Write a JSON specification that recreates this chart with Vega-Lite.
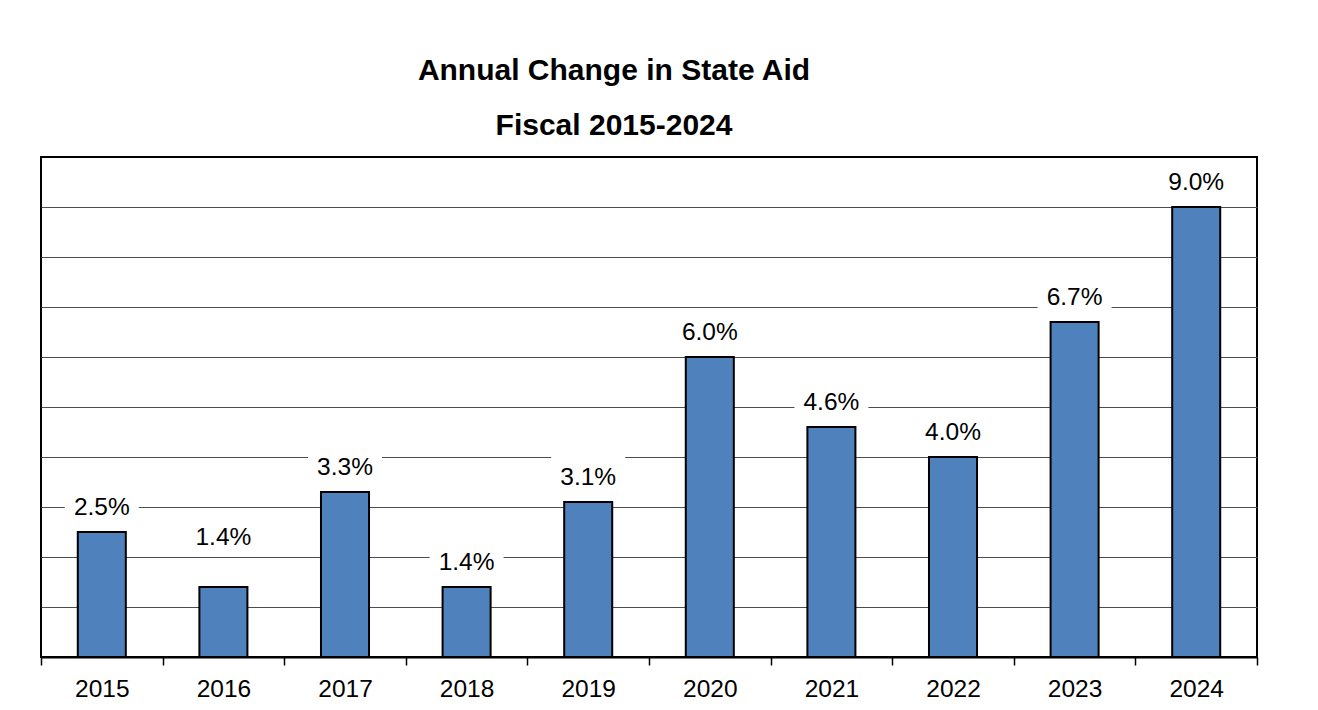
{
  "$schema": "https://vega.github.io/schema/vega-lite/v6.json",
  "width": 1216,
  "height": 500,
  "autosize": {"type": "none"},
  "padding": {"left": 41, "top": 157, "right": 61, "bottom": 53},
  "background": "white",
  "title": {
    "text": ["Annual Change in State Aid", "Fiscal 2015-2024"],
    "font": "Liberation Sans",
    "fontSize": 30,
    "fontWeight": "bold",
    "color": "black",
    "lineHeight": 55,
    "baseline": "bottom",
    "anchor": "middle",
    "offset": -14,
    "dx": -35
  },
  "config": {"view": {"stroke": "black", "strokeWidth": 2}},
  "data": {
    "values": [
      {"year": "2015", "change": 0.025},
      {"year": "2016", "change": 0.014},
      {"year": "2017", "change": 0.033},
      {"year": "2018", "change": 0.014},
      {"year": "2019", "change": 0.031},
      {"year": "2020", "change": 0.060},
      {"year": "2021", "change": 0.046},
      {"year": "2022", "change": 0.040},
      {"year": "2023", "change": 0.067},
      {"year": "2024", "change": 0.090}
    ]
  },
  "encoding": {
    "x": {
      "field": "year",
      "type": "nominal",
      "scale": {"paddingInner": 0, "paddingOuter": 0},
      "axis": {
        "title": null,
        "labelAngle": 0,
        "labelFont": "Liberation Sans",
        "labelFontSize": 24.5,
        "labelColor": "black",
        "labelPadding": 12,
        "tickSize": 8,
        "tickColor": "black",
        "tickWidth": 1.5,
        "tickBand": "extent",
        "domainColor": "black",
        "domainWidth": 2,
        "grid": false
      }
    },
    "y": {
      "field": "change",
      "type": "quantitative",
      "scale": {"domain": [0, 0.1], "nice": false},
      "axis": {
        "title": null,
        "labels": false,
        "ticks": false,
        "domain": false,
        "grid": true,
        "gridColor": "#4d4d4d",
        "gridWidth": 1,
        "values": [0.01, 0.02, 0.03, 0.04, 0.05, 0.06, 0.07, 0.08, 0.09]
      }
    }
  },
  "layer": [
    {
      "mark": {"type": "bar", "width": {"band": 0.395}, "fill": "#4F81BD", "stroke": "black", "strokeWidth": 2}
    },
    {
      "transform": [{"filter": "datum.year != '2016'"}],
      "mark": {"type": "point", "shape": "M-0.74,-0.94H0.74V-0.22H-0.74Z", "size": 10000, "filled": true, "fill": "white", "opacity": 1, "strokeWidth": 0}
    },
    {
      "transform": [{"filter": "datum.year == '2016'"}],
      "mark": {"type": "point", "shape": "M-0.74,-1.41H0.74V-0.71H-0.74Z", "size": 10000, "filled": true, "fill": "white", "opacity": 1, "strokeWidth": 0}
    },
    {
      "transform": [{"filter": "datum.year != '2016'"}],
      "mark": {"type": "text", "dy": -17, "baseline": "alphabetic", "font": "Liberation Sans", "fontSize": 24.5, "color": "black"},
      "encoding": {"text": {"field": "change", "type": "quantitative", "format": ".1%"}}
    },
    {
      "transform": [{"filter": "datum.year == '2016'"}],
      "mark": {"type": "text", "dy": -42, "baseline": "alphabetic", "font": "Liberation Sans", "fontSize": 24.5, "color": "black"},
      "encoding": {"text": {"field": "change", "type": "quantitative", "format": ".1%"}}
    }
  ]
}
